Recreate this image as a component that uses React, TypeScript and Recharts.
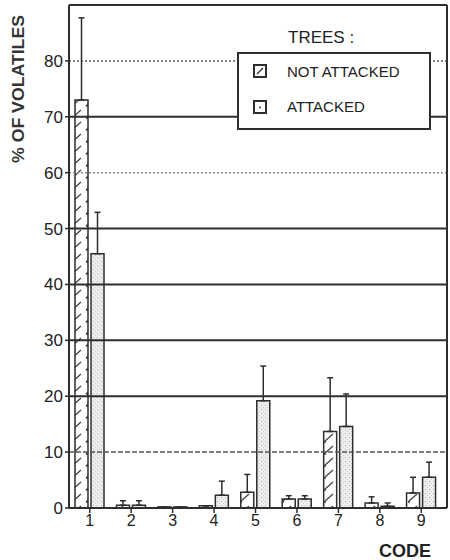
import {
  BarChart,
  Bar,
  XAxis,
  YAxis,
  ErrorBar,
  ReferenceLine,
  Legend,
} from 'recharts';

const codes = ['1', '2', '3', '4', '5', '6', '7', '8', '9'];
const notAttacked = [73.0, 0.5, 0.2, 0.4, 2.8, 1.6, 13.7, 0.9, 2.7];
const notAttackedErr = [14.7, 0.8, 0, 0, 3.2, 0.6, 9.6, 1.1, 2.8];
const attacked = [45.5, 0.5, 0.2, 2.3, 19.2, 1.6, 14.6, 0.3, 5.5];
const attackedErr = [7.4, 0.8, 0, 2.5, 6.2, 0.6, 5.8, 0.6, 2.7];
const yTicks = [0, 10, 20, 30, 40, 50, 60, 70, 80];
const seriesOrder = ['notAttacked', 'attacked'];

const data = codes.map((code, i) => ({
  code,
  notAttacked: notAttacked[i],
  notAttackedErr: [0, notAttackedErr[i]],
  attacked: attacked[i],
  attackedErr: [0, attackedErr[i]],
}));

const INK = '#2e2e2e';
const FONT = '"Liberation Sans", Arial, sans-serif';

// horizontal rules: some solid, some dotted like the printed figure
const gridStyles: Record<number, { stroke: string; dash?: string; width: number }> = {
  10: { stroke: '#555', dash: '5 2', width: 1.5 },
  20: { stroke: INK, width: 2 },
  30: { stroke: INK, width: 2 },
  40: { stroke: INK, width: 2 },
  50: { stroke: INK, width: 2 },
  60: { stroke: '#8a8a8a', dash: '2 2', width: 1.5 },
  70: { stroke: INK, width: 2 },
  80: { stroke: '#555', dash: '2 2', width: 1.5 },
};

function LegendIcon({ hatched }: { hatched: boolean }) {
  return (
    <svg width={14} height={14} style={{ display: 'block' }}>
      <rect x={1} y={1} width={12} height={12} fill="#fff" stroke={INK} strokeWidth={2} />
      {hatched ? (
        <line x1={4} y1={10} x2={10} y2={4} stroke={INK} strokeWidth={1.2} />
      ) : (
        <circle cx={7} cy={7.5} r={0.9} fill={INK} />
      )}
    </svg>
  );
}

function TreesLegend({ payload }: any) {
  const items = seriesOrder
    .map((key) => ((payload || []) as any[]).find((p) => p.dataKey === key))
    .filter(Boolean);
  return (
    <div style={{ position: 'relative', width: 194, height: 104, fontFamily: FONT, color: '#222' }}>
      <div style={{ position: 'absolute', left: 51, top: 2, fontSize: 17, lineHeight: '17px' }}>
        TREES :
      </div>
      <div
        style={{
          position: 'absolute',
          left: 0,
          top: 25,
          width: 194,
          height: 78,
          boxSizing: 'border-box',
          border: `2px solid ${INK}`,
          background: '#fff',
        }}
      >
        {items.map((item, i) => (
          <div key={item.value}>
            <div style={{ position: 'absolute', left: 14, top: i === 0 ? 10 : 46 }}>
              <LegendIcon hatched={item.dataKey === 'notAttacked'} />
            </div>
            <div
              style={{
                position: 'absolute',
                left: 48,
                top: i === 0 ? 10 : 45,
                fontSize: 15,
                lineHeight: '15px',
                whiteSpace: 'nowrap',
              }}
            >
              {item.value}
            </div>
          </div>
        ))}
      </div>
    </div>
  );
}

export default function App() {
  return (
    <div style={{ position: 'absolute', left: 0, top: 0, width: 450, height: 560, background: '#fff' }}>
      <BarChart
        width={450}
        height={560}
        data={data}
        margin={{ top: 5, right: 0, bottom: 0, left: 0 }}
        barSize={13}
        barGap={3}
      >
        <defs>
          <pattern id="hatch" width={14} height={12} patternUnits="userSpaceOnUse">
            <rect width={14} height={12} fill="#fff" />
            <path d="M2 10 L11 2" stroke="#444" strokeWidth={1.3} />
            <path d="M2 10 L4 10" stroke="#444" strokeWidth={1.3} />
          </pattern>
          <pattern id="stipple" width={4} height={4} patternUnits="userSpaceOnUse">
            <rect width={4} height={4} fill="#ededed" />
            <rect x={1} y={1} width={1} height={1} fill="#b5b5b5" />
            <rect x={3} y={3} width={1} height={1} fill="#cfcfcf" />
          </pattern>
        </defs>

        <XAxis
          dataKey="code"
          height={52}
          padding={{ left: 0, right: 5 }}
          axisLine={{ stroke: INK, strokeWidth: 2 }}
          tickLine={{ stroke: INK, strokeWidth: 1.5 }}
          tickSize={5}
          tick={{ fontSize: 16, fill: '#222', fontFamily: FONT }}
        />
        <YAxis
          width={69}
          domain={[0, 90]}
          ticks={yTicks}
          interval={0}
          axisLine={{ stroke: INK, strokeWidth: 2 }}
          tickLine={{ stroke: INK, strokeWidth: 1.5 }}
          tickSize={4}
          tick={{ fontSize: 17, fill: '#222', fontFamily: FONT }}
        />
        <YAxis
          yAxisId="frame"
          orientation="right"
          width={3}
          domain={[0, 90]}
          tick={false}
          tickLine={false}
          axisLine={{ stroke: INK, strokeWidth: 2 }}
        />

        {yTicks
          .filter((t) => t > 0)
          .map((t) => (
            <ReferenceLine
              key={t}
              y={t}
              stroke={gridStyles[t].stroke}
              strokeWidth={gridStyles[t].width}
              strokeDasharray={gridStyles[t].dash}
            />
          ))}
        <ReferenceLine y={90} stroke={INK} strokeWidth={2} />

        <Legend
          layout="vertical"
          align="center"
          verticalAlign="middle"
          content={<TreesLegend />}
          wrapperStyle={{ left: 237, top: 27, width: 194 }}
        />

        <Bar
          dataKey="notAttacked"
          name="NOT ATTACKED"
          fill="url(#hatch)"
          stroke={INK}
          strokeWidth={1.5}
          isAnimationActive={false}
        >
          <ErrorBar dataKey="notAttackedErr" direction="y" width={3} stroke={INK} strokeWidth={1.5} />
        </Bar>
        <Bar
          dataKey="attacked"
          name="ATTACKED"
          fill="url(#stipple)"
          stroke={INK}
          strokeWidth={1.5}
          isAnimationActive={false}
        >
          <ErrorBar dataKey="attackedErr" direction="y" width={3} stroke={INK} strokeWidth={1.5} />
        </Bar>

        <text
          x={24}
          y={89}
          transform="rotate(-90 24 89)"
          textAnchor="middle"
          fontFamily={FONT}
          fontWeight="bold"
          fontSize={17}
          textLength={148}
          lengthAdjust="spacingAndGlyphs"
          fill="#333"
        >
          % OF VOLATILES
        </text>
        <text x={379} y={557} fontFamily={FONT} fontWeight="bold" fontSize={18} fill="#222">
          CODE
        </text>
      </BarChart>
    </div>
  );
}
